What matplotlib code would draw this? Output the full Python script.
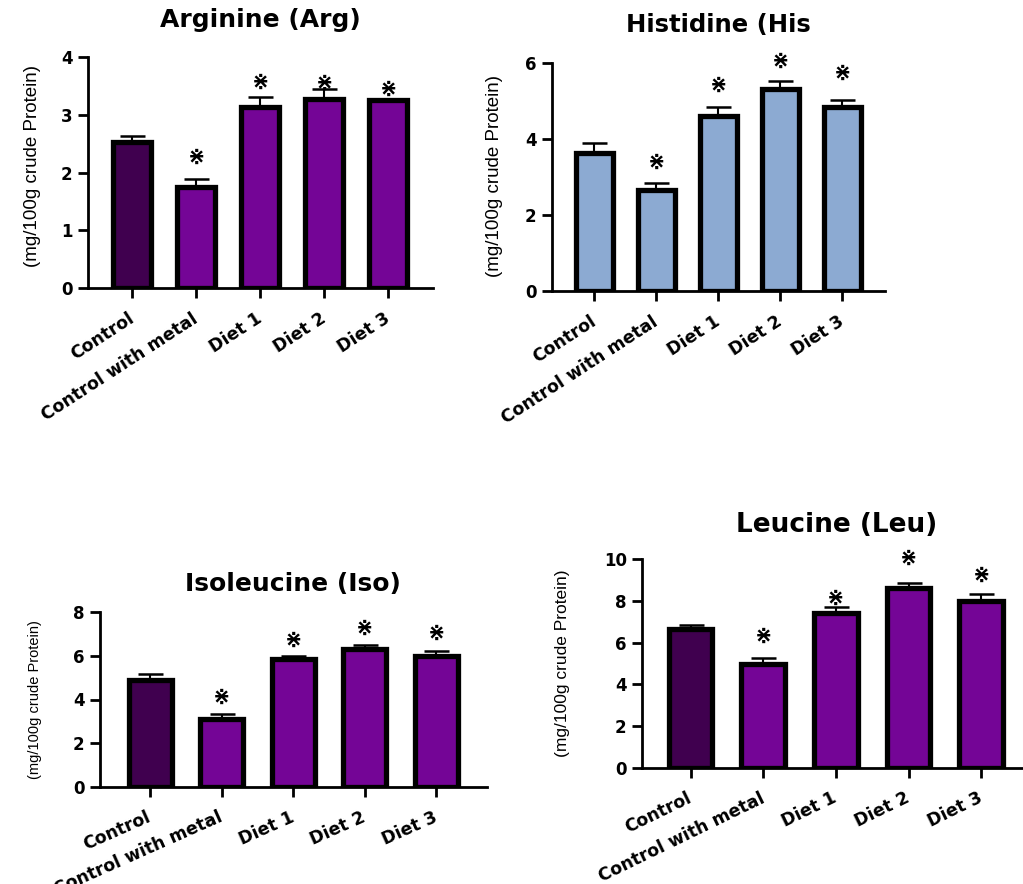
import numpy as np
import matplotlib.pyplot as plt

# amino acid content of the fish muscle per treatment group
groups = ["Control", "Control with metal", "Diet 1", "Diet 2", "Diet 3"]

arg_mean = [2.52, 1.75, 3.13, 3.28, 3.25]
arg_err = [0.11, 0.13, 0.18, 0.16, 0.02]
arg_star = [None, 2.27, 3.57, 3.56, 3.45]

his_mean = [3.63, 2.66, 4.61, 5.32, 4.84]
his_err = [0.26, 0.17, 0.22, 0.21, 0.19]
his_star = [None, 3.39, 5.42, 6.05, 5.74]

iso_mean = [4.89, 3.10, 5.84, 6.30, 6.00]
iso_err = [0.27, 0.23, 0.17, 0.18, 0.22]
iso_star = [None, 4.10, 6.75, 7.26, 7.03]

leu_mean = [6.63, 4.99, 7.40, 8.59, 7.97]
leu_err = [0.23, 0.26, 0.32, 0.26, 0.36]
leu_star = [None, 6.34, 8.13, 10.05, 9.24]

DARK = "#40004f"
PURPLE = "#740596"
BLUE = "#8caad2"
YLAB = "(mg/100g crude Protein)"

W, H = 1023, 884
fig = plt.figure(figsize=(W / 100, H / 100), dpi=100)


def px_axes(left, top, right, bottom):
    # axes placed from pixel edges
    return fig.add_axes([left / W, 1 - bottom / H, (right - left) / W, (bottom - top) / H])


def panel(ax, mean, err, star, colors, ymax, step, title, title_xy, title_size,
          ylab_xy, ylab_size, rot, xlim, ecolors=None):
    x = np.arange(len(groups))
    ax.bar(x, mean, width=0.6, color=colors, edgecolor="black", linewidth=3.8, zorder=2)
    if ecolors is None:
        ecolors = ["black"] * len(groups)
    for xi, m, e, c in zip(x, mean, err, ecolors):
        ax.errorbar(xi, m, yerr=[[0], [e]], fmt="none", ecolor=c, elinewidth=1.5,
                    capsize=9, capthick=1.8, zorder=1)
    for xi, s in zip(x, star):
        if s is not None:
            ax.text(xi, s, "\u22c7", ha="center", va="center", fontsize=15,
                    fontweight="bold", clip_on=False)
    ax.set_xlim(*xlim)
    ax.set_ylim(0, ymax)
    ax.set_yticks(np.arange(0, ymax + step / 2, step))
    ax.set_xticks(x)
    ax.set_xticklabels(groups, rotation=rot, ha="right", va="center",
                       rotation_mode="anchor", fontsize=12.5, fontweight="bold")
    for lab in ax.get_yticklabels():
        lab.set_fontweight("bold")
        lab.set_fontsize(12)
    for side in ["top", "right"]:
        ax.spines[side].set_visible(False)
    for side in ["left", "bottom"]:
        ax.spines[side].set_linewidth(2)
    ax.tick_params(axis="both", length=7, width=2, pad=4)
    ax.tick_params(axis="x", pad=14)
    ax.set_ylabel(YLAB, fontsize=ylab_size, fontfamily="Liberation Sans")
    ax.yaxis.set_label_coords(ylab_xy[0] / W, 1 - ylab_xy[1] / H, transform=fig.transFigure)
    fig.text(title_xy[0] / W, 1 - title_xy[1] / H, title, ha="center", va="center",
             fontsize=title_size, fontweight="bold")


ax1 = px_axes(88, 57, 433, 288)
panel(ax1, arg_mean, arg_err, arg_star, [DARK] + [PURPLE] * 4, 4, 1,
      "Arginine (Arg)", (260, 20), 18, (41, 166), 13.5, 33, (-0.69, 4.7),
      ecolors=["black"] * 4 + ["#1a1ad0"])

ax2 = px_axes(552, 63, 885, 291)
panel(ax2, his_mean, his_err, his_star, [BLUE] * 5, 6, 2,
      "Histidine (His", (718, 25), 17.5, (503, 176), 13.5, 33, (-0.68, 4.69))

ax3 = px_axes(100, 612, 487, 787)
panel(ax3, iso_mean, iso_err, iso_star, [DARK] + [PURPLE] * 4, 8, 2,
      "Isoleucine (Iso)", (293, 584), 18, (42, 700), 10.5, 24, (-0.70, 4.71))

ax4 = px_axes(642, 559, 1032, 768)
panel(ax4, leu_mean, leu_err, leu_star, [DARK] + [PURPLE] * 4, 10, 2,
      "Leucine (Leu)", (837, 525), 19, (570, 663), 12.5, 26, (-0.67, 4.7))

fig.savefig("out.png", dpi=100)
